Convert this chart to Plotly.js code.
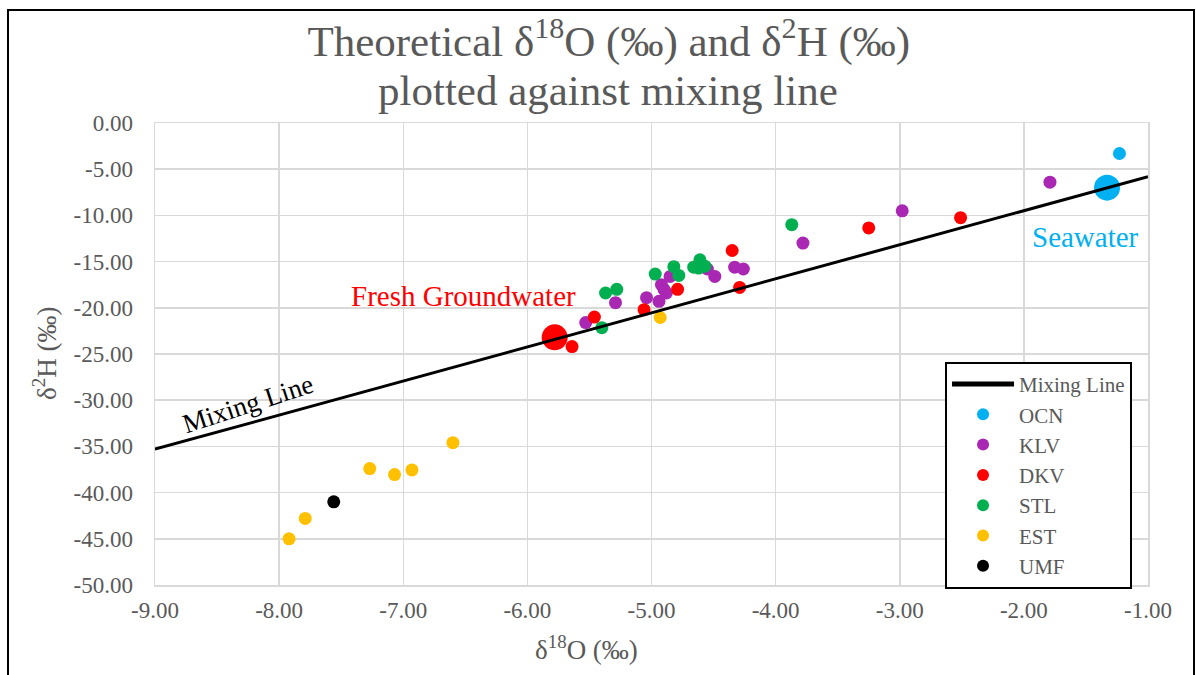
<!DOCTYPE html>
<html>
<head>
<meta charset="utf-8">
<script src="https://cdn.plot.ly/plotly-3.0.1.min.js"></script>
<style>
  html, body { margin: 0; padding: 0; background: #ffffff; }
  #chart { position: absolute; left: 0; top: 0; width: 1196px; height: 675px; }
  #frame { position: absolute; left: 7px; top: 9px; width: 1188px; height: 720px;
           border: 2px solid #000; box-sizing: border-box; pointer-events: none; }
</style>
</head>
<body>
<div id="chart"></div>
<div id="frame"></div>
<script>
// ---- data ----
const mixX = [-9.0, -1.0];
const mixY = [-35.3, -5.8];

const ocnX = [-1.23];
const ocnY = [-3.3];
const seaX = [-1.33];
const seaY = [-7.0];

const klvX = [-1.79, -2.98, -3.78, -4.33, -4.26, -4.49, -4.55, -5.53, -5.29, -5.04, -4.94, -4.92, -4.88, -4.85, -4.90];
const klvY = [-6.4, -9.5, -13.0, -15.6, -15.8, -16.6, -15.8, -21.6, -19.45, -18.9, -19.3, -17.5, -18.4, -16.6, -18.0];

const dkvX = [-2.51, -3.25, -4.35, -4.29, -4.79, -5.06, -5.46, -5.64];
const dkvY = [-10.25, -11.36, -13.8, -17.8, -18.0, -20.2, -21.0, -24.2];
const freshX = [-5.78];
const freshY = [-23.2];

const stlX = [-3.87, -4.61, -4.66, -4.57, -4.62, -4.82, -4.78, -4.97, -5.37, -5.28, -5.40];
const stlY = [-11.0, -14.8, -15.6, -15.5, -15.7, -15.55, -16.5, -16.35, -18.4, -18.0, -22.15];

const estX = [-7.92, -7.79, -7.27, -7.07, -6.93, -6.60, -4.93];
const estY = [-45.0, -42.8, -37.4, -38.05, -37.55, -34.6, -21.05];

const umfX = [-7.56];
const umfY = [-41.0];

const xTickVals = [-9, -8, -7, -6, -5, -4, -3, -2, -1];
const xTickText = ['-9.00', '-8.00', '-7.00', '-6.00', '-5.00', '-4.00', '-3.00', '-2.00', '-1.00'];
const yTickVals = [0, -5, -10, -15, -20, -25, -30, -35, -40, -45, -50];
const yTickText = ['0.00', '-5.00', '-10.00', '-15.00', '-20.00', '-25.00', '-30.00', '-35.00', '-40.00', '-45.00', '-50.00'];

// ---- styles ----
const SERIF = 'Liberation Serif';
const GREY = '#595959';
const C = { ocn: '#00B0F0', klv: '#A927B3', dkv: '#FF0000', stl: '#00B050', est: '#FFC000', umf: '#000000' };
const SMALL = 13, BIG = 26;

function pts(name, x, y, color, size, show, rank) {
  return { type: 'scatter', mode: 'markers', name: name, x: x, y: y,
           marker: { color: color, size: size, line: { width: 0 } },
           showlegend: show, legendrank: rank, hoverinfo: 'x+y+name' };
}

const traces = [
  pts('OCN', ocnX, ocnY, C.ocn, SMALL, true, 2),
  pts('OCN', seaX, seaY, C.ocn, BIG, false, 2),
  pts('KLV', klvX, klvY, C.klv, SMALL, true, 3),
  pts('STL', stlX, stlY, C.stl, SMALL, true, 5),
  pts('DKV', dkvX, dkvY, C.dkv, SMALL, true, 4),
  pts('DKV', freshX, freshY, C.dkv, BIG, false, 4),
  pts('EST', estX, estY, C.est, SMALL, true, 6),
  pts('UMF', umfX, umfY, C.umf, SMALL, true, 7),
  { type: 'scatter', mode: 'lines', name: 'Mixing Line', x: mixX, y: mixY,
    line: { color: '#000000', width: 3 }, legendrank: 1 }
];

const layout = {
  width: 1196, height: 675,
  margin: { l: 155, r: 48, t: 123, b: 90 },
  paper_bgcolor: 'rgba(0,0,0,0)',
  plot_bgcolor: '#ffffff',
  font: { family: SERIF, color: GREY },
  title: { text: 'Theoretical δ<sup>18</sup>O (‰) and δ<sup>2</sup>H (‰)',
           font: { family: SERIF, size: 43, color: GREY },
           xref: 'container', x: 0.509, xanchor: 'center',
           yref: 'container', y: 1 - 41 / 675, yanchor: 'middle' },
  xaxis: { range: [-9, -1], tickvals: xTickVals, ticktext: xTickText,
           showgrid: true, gridcolor: '#D9D9D9', gridwidth: 1.5,
           showline: true, linecolor: '#D9D9D9', linewidth: 1.5, mirror: true,
           zeroline: false, ticks: '', ticklabelstandoff: 4,
           tickfont: { family: SERIF, size: 23, color: GREY } },
  yaxis: { range: [-50, 0], tickvals: yTickVals, ticktext: yTickText,
           showgrid: true, gridcolor: '#D9D9D9', gridwidth: 1.5,
           showline: true, linecolor: '#D9D9D9', linewidth: 1.5, mirror: true,
           zeroline: false, ticks: '', ticklabelstandoff: 16,
           tickfont: { family: SERIF, size: 23, color: GREY } },
  legend: { x: 0.7956, y: 0.483, xanchor: 'left', yanchor: 'top',
            bgcolor: '#ffffff', bordercolor: '#000000', borderwidth: 2,
            font: { family: SERIF, size: 21, color: GREY },
            itemsizing: 'constant', itemwidth: 62, tracegroupgap: 0 },
  annotations: [
    { text: 'plotted against mixing line', xref: 'paper', yref: 'paper',
      x: 0.456, y: (585 - 90) / 462, xanchor: 'center', yanchor: 'middle', showarrow: false,
      font: { family: SERIF, size: 43, color: GREY } },
    { text: 'δ<sup>18</sup>O (‰)', xref: 'paper', yref: 'paper',
      x: (586 - 155) / 993, y: (585 - 648) / 462, xanchor: 'center', yanchor: 'middle', showarrow: false,
      font: { family: SERIF, size: 27, color: GREY } },
    { text: 'δ<sup>2</sup>H (‰)', xref: 'paper', yref: 'paper', textangle: -90,
      x: (45 - 155) / 993, y: 0.5, xanchor: 'center', yanchor: 'middle', showarrow: false,
      font: { family: SERIF, size: 27, color: GREY } },
    { text: 'Seawater', x: -1.506, y: -12.34, xref: 'x', yref: 'y', showarrow: false,
      font: { family: SERIF, size: 29, color: C.ocn } },
    { text: 'Fresh Groundwater', x: -6.518, y: -18.72, xref: 'x', yref: 'y', showarrow: false,
      font: { family: SERIF, size: 29, color: C.dkv } },
    { text: 'Mixing Line', x: -8.25, y: -30.4, xref: 'x', yref: 'y', showarrow: false, textangle: -18,
      font: { family: SERIF, size: 27, color: '#000000' } }
  ]
};

Plotly.newPlot('chart', traces, layout, { staticPlot: true, displayModeBar: false });
</script>
</body>
</html>
